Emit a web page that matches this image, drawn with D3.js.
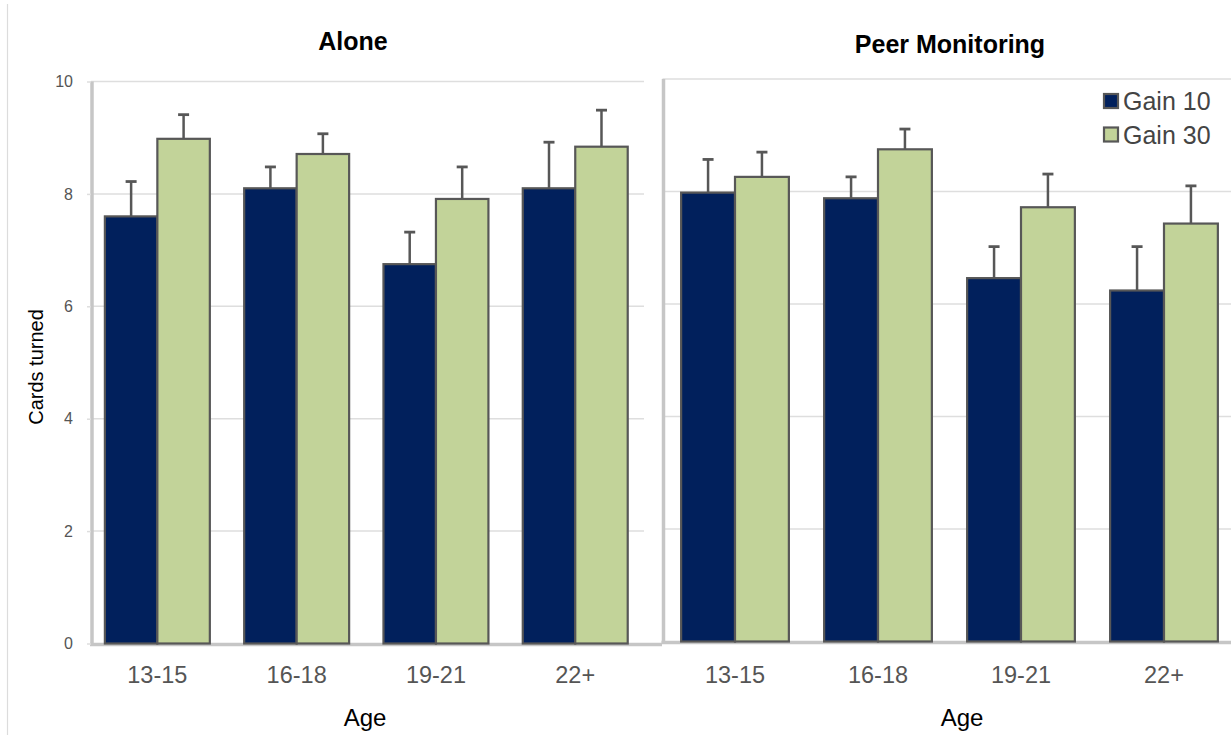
<!DOCTYPE html>
<html>
<head>
<meta charset="utf-8">
<script src="https://cdn.jsdelivr.net/npm/d3@7"></script>
<style>
  html, body { margin: 0; padding: 0; background: #fff; }
  svg { display: block; font-family: "Liberation Sans", Arial, Helvetica, sans-serif; }
</style>
</head>
<body>
<svg id="chart" width="1231" height="735"></svg>
<script>
// Age groups on the x axis
const ageGroups = ["13-15", "16-18", "19-21", "22+"];
const seriesNames = ["Gain 10", "Gain 30"];
const yTicks = [0, 2, 4, 6, 8, 10];

// Mean cards turned, alone condition
const aloneGain10 = [7.60, 8.10, 6.75, 8.10];
const aloneGain30 = [8.98, 8.71, 7.91, 8.84];
// Standard errors, alone condition
const aloneErr10 = [0.62, 0.38, 0.57, 0.82];
const aloneErr30 = [0.43, 0.36, 0.57, 0.65];

// Mean cards turned, peer monitoring condition
const peerGain10 = [7.98, 7.88, 6.46, 6.24];
const peerGain30 = [8.26, 8.75, 7.72, 7.43];
// Standard errors, peer monitoring condition
const peerErr10 = [0.59, 0.38, 0.56, 0.78];
const peerErr30 = [0.44, 0.36, 0.59, 0.67];

const colors = { "Gain 10": "#01205c", "Gain 30": "#c2d399" };
const barStroke = "#575757";
const axisColor = "#c6c6c6";
const gridColor = "#dedede";

const svg = d3.select("#chart");

// Thin frame line on the far left
svg.append("line")
  .attr("x1", 7.5).attr("x2", 7.5).attr("y1", 4).attr("y2", 735)
  .attr("stroke", "#dcdcdc").attr("stroke-width", 1.2);

function buildRows(g10, g30, e10, e30) {
  return ageGroups.map((age, i) => ({
    age,
    values: [
      { series: "Gain 10", value: g10[i], err: e10[i] },
      { series: "Gain 30", value: g30[i], err: e30[i] }
    ]
  }));
}

function drawPanel(opts) {
  const { rows, title, titleX, xRange, yRange, gridX, showYLabels, ageX } = opts;
  const g = svg.append("g");

  const x = d3.scaleBand().domain(ageGroups).range(xRange)
    .paddingInner(0.2465).paddingOuter(0.1233);
  const xs = d3.scaleBand().domain(seriesNames).range([0, x.bandwidth()]);
  const y = d3.scaleLinear().domain([0, 10]).range(yRange);

  // Horizontal gridlines
  g.selectAll("line.grid").data(yTicks.filter(t => t > 0)).join("line")
    .attr("class", "grid")
    .attr("x1", gridX[0]).attr("x2", gridX[1])
    .attr("y1", d => y(d)).attr("y2", d => y(d))
    .attr("stroke", gridColor).attr("stroke-width", 1.5);

  // Y axis line
  g.append("line")
    .attr("x1", gridX[0] + 1).attr("x2", gridX[0] + 1)
    .attr("y1", y(10)).attr("y2", y(0) + 1.5)
    .attr("stroke", axisColor).attr("stroke-width", 3.5);

  // X axis (baseline) line
  g.append("line")
    .attr("x1", gridX[0] - 1).attr("x2", opts.baseEnd)
    .attr("y1", y(0) + 1).attr("y2", y(0) + 1)
    .attr("stroke", axisColor).attr("stroke-width", 3.5);

  if (showYLabels) {
    const yAxis = d3.axisLeft(y).tickValues(yTicks).tickSize(4).tickPadding(14)
      .tickFormat(d3.format("d"));
    const ya = g.append("g").attr("transform", `translate(${gridX[0]},0)`).call(yAxis);
    ya.select(".domain").remove();
    ya.selectAll(".tick line").attr("stroke", gridColor).attr("stroke-width", 1.5);
    ya.selectAll(".tick text")
      .attr("fill", "#555").attr("font-size", 16)
      .attr("font-family", "'Liberation Sans', Arial, sans-serif");
  }

  // Bars
  const groups = g.selectAll("g.grp").data(rows).join("g")
    .attr("class", "grp")
    .attr("transform", d => `translate(${x(d.age)},0)`);

  groups.selectAll("rect").data(d => d.values).join("rect")
    .attr("x", d => xs(d.series))
    .attr("width", xs.bandwidth())
    .attr("y", d => y(d.value))
    .attr("height", d => y(0) - y(d.value))
    .attr("fill", d => colors[d.series])
    .attr("stroke", barStroke).attr("stroke-width", 2.2);

  // Error bars (upper only) with caps
  const eb = groups.selectAll("g.err").data(d => d.values).join("g").attr("class", "err");
  eb.append("line")
    .attr("x1", d => xs(d.series) + xs.bandwidth() / 2)
    .attr("x2", d => xs(d.series) + xs.bandwidth() / 2)
    .attr("y1", d => y(d.value))
    .attr("y2", d => y(d.value + d.err))
    .attr("stroke", barStroke).attr("stroke-width", 2.5);
  eb.append("line")
    .attr("x1", d => xs(d.series) + xs.bandwidth() / 2 - 5.5)
    .attr("x2", d => xs(d.series) + xs.bandwidth() / 2 + 5.5)
    .attr("y1", d => y(d.value + d.err))
    .attr("y2", d => y(d.value + d.err))
    .attr("stroke", barStroke).attr("stroke-width", 2.8);

  // Category labels
  g.selectAll("text.cat").data(ageGroups).join("text")
    .attr("class", "cat")
    .attr("x", d => x(d) + x.bandwidth() / 2)
    .attr("y", 683)
    .attr("text-anchor", "middle")
    .attr("font-size", 23.5)
    .attr("fill", "#555")
    .text(d => d);

  // Axis title
  g.append("text")
    .attr("x", ageX).attr("y", 726)
    .attr("text-anchor", "middle")
    .attr("font-size", 24)
    .attr("fill", "#000")
    .text("Age");

  // Panel title
  g.append("text")
    .attr("x", titleX).attr("y", opts.titleY)
    .attr("text-anchor", "middle")
    .attr("font-size", 25).attr("font-weight", "bold")
    .attr("fill", "#000")
    .text(title);

  return { x, y };
}

drawPanel({
  rows: buildRows(aloneGain10, aloneGain30, aloneErr10, aloneErr30),
  title: "Alone", titleX: 353, titleY: 50,
  xRange: [87.7, 644.9], yRange: [643.5, 81.5],
  gridX: [91, 644], baseEnd: 662,
  showYLabels: true, ageX: 365
});

drawPanel({
  rows: buildRows(peerGain10, peerGain30, peerErr10, peerErr30),
  title: "Peer Monitoring", titleX: 950, titleY: 53,
  xRange: [663.5, 1235.5], yRange: [641.5, 79],
  gridX: [662.5, 1231], baseEnd: 1231,
  showYLabels: false, ageX: 962
});

// Y axis title
svg.append("text")
  .attr("transform", "translate(43,367) rotate(-90)")
  .attr("text-anchor", "middle")
  .attr("font-size", 20)
  .attr("fill", "#000")
  .text("Cards turned");

// Legend
const legend = svg.append("g").attr("transform", "translate(1103,93)");
const items = legend.selectAll("g").data(seriesNames).join("g")
  .attr("transform", (d, i) => `translate(0,${i * 33.5})`);
items.append("rect")
  .attr("x", 1).attr("y", 1).attr("width", 14).attr("height", 14)
  .attr("fill", d => colors[d])
  .attr("stroke", barStroke).attr("stroke-width", 2.2);
items.append("text")
  .attr("x", 20).attr("y", 17)
  .attr("font-size", 25)
  .attr("fill", "#444")
  .text(d => d);
</script>
</body>
</html>
